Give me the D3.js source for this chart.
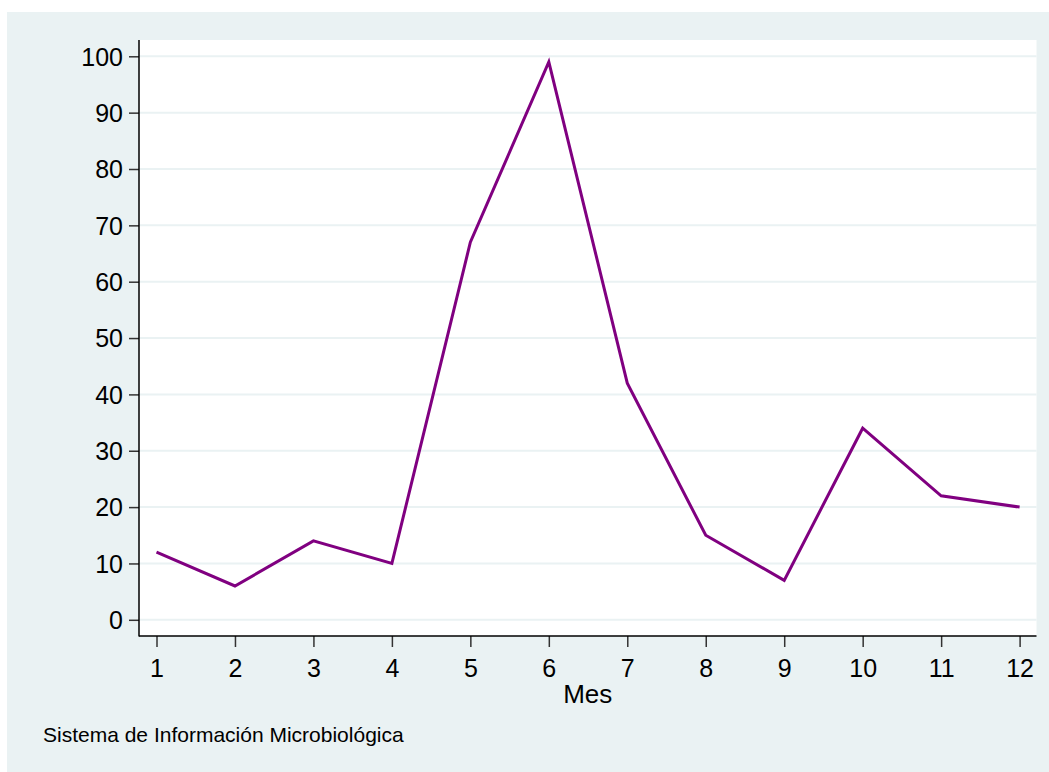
<!DOCTYPE html>
<html>
<head>
<meta charset="utf-8">
<script src="https://cdn.jsdelivr.net/npm/d3@7"></script>
<style>
  html, body { margin: 0; padding: 0; background: #ffffff; }
  svg { display: block; }
  text { font-family: "Liberation Sans", Arial, sans-serif; fill: #000; }
</style>
</head>
<body>
<script>
const months = [1, 2, 3, 4, 5, 6, 7, 8, 9, 10, 11, 12];
const counts = [12, 6, 14, 10, 67, 99, 42, 15, 7, 34, 22, 20];
const yTicks = [0, 10, 20, 30, 40, 50, 60, 70, 80, 90, 100];
const xTitle = "Mes";
const note = "Sistema de Información Microbiológica";

const W = 1049, H = 772;
const plot = { left: 139, right: 1036.5, top: 40, bottom: 636 };

const svg = d3.select("body").append("svg").attr("width", W).attr("height", H);

// outer background
svg.append("rect").attr("x", 7).attr("y", 12).attr("width", W - 7).attr("height", H - 12)
  .attr("fill", "#EAF2F3");
// plot region
svg.append("rect").attr("x", plot.left).attr("y", plot.top)
  .attr("width", plot.right - plot.left).attr("height", plot.bottom - plot.top)
  .attr("fill", "#ffffff");

const x = d3.scaleLinear().domain([1, 12]).range([156.5, 1019.6]);
const y = d3.scaleLinear().domain([0, 100]).range([619.8, 56.3]);

// gridlines
svg.append("g").selectAll("line").data(yTicks).join("line")
  .attr("x1", plot.left).attr("x2", plot.right)
  .attr("y1", d => y(d)).attr("y2", d => y(d))
  .attr("stroke", "#EAF2F3").attr("stroke-width", 2);

// line
const data = months.map((m, i) => ({ m, v: counts[i] }));
svg.append("path").datum(data)
  .attr("fill", "none").attr("stroke", "#800080").attr("stroke-width", 3)
  .attr("stroke-linejoin", "miter")
  .attr("d", d3.line().x(d => x(d.m)).y(d => y(d.v)));

// y axis
const yAxis = svg.append("g").attr("transform", `translate(${plot.left},0)`)
  .call(d3.axisLeft(y).tickValues(yTicks).tickSize(10).tickPadding(6).tickSizeOuter(0));
yAxis.select(".domain").remove();
yAxis.append("line").attr("x1", 0).attr("x2", 0).attr("y1", plot.top).attr("y2", plot.bottom + 0.5)
  .attr("stroke", "#000").attr("stroke-width", 1.5);
yAxis.selectAll(".tick line").attr("stroke", "#333").attr("stroke-width", 1.5);
yAxis.selectAll(".tick text").attr("font-size", 25).attr("fill", "#000")
  .attr("font-family", "Liberation Sans, Arial, sans-serif").attr("dy", "0.35em");

// x axis
const xAxis = svg.append("g").attr("transform", `translate(0,${plot.bottom})`)
  .call(d3.axisBottom(x).tickValues(months).tickFormat(d3.format("d")).tickSize(11).tickPadding(5).tickSizeOuter(0));
xAxis.select(".domain").remove();
xAxis.append("line").attr("x1", plot.left).attr("x2", plot.right).attr("y1", 0).attr("y2", 0)
  .attr("stroke", "#000").attr("stroke-width", 1.5);
xAxis.selectAll(".tick line").attr("stroke", "#333").attr("stroke-width", 1.5);
xAxis.selectAll(".tick text").attr("font-size", 25).attr("fill", "#000")
  .attr("font-family", "Liberation Sans, Arial, sans-serif").attr("dy", null).attr("y", 41);

// x title
svg.append("text").attr("x", (plot.left + plot.right) / 2).attr("y", 703)
  .attr("text-anchor", "middle").attr("font-size", 26).text(xTitle);

// note
svg.append("text").attr("x", 43).attr("y", 741.5)
  .attr("font-size", 21).text(note);
</script>
</body>
</html>
